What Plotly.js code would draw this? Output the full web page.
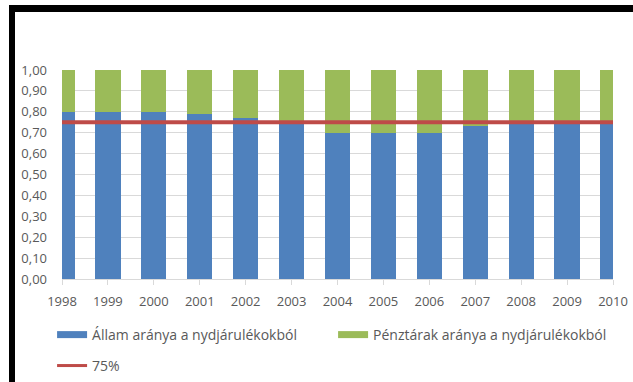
<!DOCTYPE html>
<html>
<head>
<meta charset="utf-8">
<script src="https://cdn.plot.ly/plotly-3.0.1.min.js"></script>
<style>
  html, body { margin: 0; padding: 0; background: #ffffff; }
  #chart { position: absolute; left: 0; top: 0; width: 633px; height: 382px; }
  .band { position: absolute; background: #000000; pointer-events: none; }
</style>
</head>
<body>
<div id="chart"></div>
<div class="band" style="left:9px; top:5px; width:624px; height:7px;"></div>
<div class="band" style="left:9px; top:5px; width:6px; height:377px;"></div>
<script>
// ---- data ----
const years = [1998, 1999, 2000, 2001, 2002, 2003, 2004, 2005, 2006, 2007, 2008, 2009, 2010];
const allamArany = [0.80, 0.80, 0.80, 0.79, 0.77, 0.74, 0.70, 0.70, 0.70, 0.73, 0.745, 0.745, 0.745];
const penztarArany = allamArany.map(v => +(1 - v).toFixed(3));
const threshold = [0.75, 0.75, 0.75, 0.75, 0.75, 0.75, 0.75, 0.75, 0.75, 0.75, 0.75, 0.75, 0.75];
const yTicks = [0, 0.1, 0.2, 0.3, 0.4, 0.5, 0.6, 0.7, 0.8, 0.9, 1.0];
const names = ['Állam aránya a nydjárulékokból', 'Pénztárak aránya a nydjárulékokból', '75%'];

const BLUE = '#4F81BD', GREEN = '#9BBB59', RED = '#BE4B48';
const TXT = '#595959';
const FONT = 'Open Sans, Liberation Sans, sans-serif';

const traces = [
  { type: 'bar', x: years, y: allamArany, marker: { color: BLUE }, width: 0.55, showlegend: false, hoverinfo: 'skip' },
  { type: 'bar', x: years, y: penztarArany, marker: { color: GREEN }, width: 0.55, showlegend: false, hoverinfo: 'skip' },
  { type: 'scatter', mode: 'lines', x: years, y: threshold, line: { color: RED, width: 4 }, showlegend: false, hoverinfo: 'skip' },
  // legend entries
  { type: 'scatter', mode: 'lines', x: [null], y: [null], name: names[0], line: { color: BLUE, width: 7 }, legend: 'legend' },
  { type: 'scatter', mode: 'lines', x: [null], y: [null], name: names[1], line: { color: GREEN, width: 7 }, legend: 'legend' },
  { type: 'scatter', mode: 'lines', x: [null], y: [null], name: names[2], line: { color: RED, width: 3 }, legend: 'legend2' }
];

const layout = {
  width: 633, height: 382,
  margin: { l: 62, r: 20, t: 70, b: 103, autoexpand: false },
  paper_bgcolor: '#ffffff', plot_bgcolor: '#ffffff',
  barmode: 'stack', separators: ', ',
  font: { family: FONT, size: 13, color: TXT },
  xaxis: {
    type: 'linear', range: [1998, 2010], tickvals: years, ticktext: years.map(String),
    showgrid: false, zeroline: false, showline: true, linecolor: '#D9D9D9', linewidth: 1,
    ticks: 'outside', ticklen: 5, tickcolor: '#D9D9D9', tickwidth: 1, ticklabelstandoff: 5,
    tickfont: { size: 13, color: TXT }, fixedrange: true
  },
  yaxis: {
    range: [0, 1], tickvals: yTicks, tickformat: '.2f',
    showgrid: true, gridcolor: '#D9D9D9', gridwidth: 1, zeroline: false, showline: false,
    ticks: '', ticklabelstandoff: 14, tickfont: { size: 13, color: TXT }, fixedrange: true
  },
  legend: {
    orientation: 'h', traceorder: 'normal', x: -0.018, xanchor: 'left', y: -0.268, yanchor: 'middle',
    entrywidth: 236, entrywidthmode: 'pixels',
    font: { size: 14, color: TXT }, bgcolor: 'rgba(0,0,0,0)'
  },
  legend2: {
    orientation: 'h', traceorder: 'normal', x: -0.018, xanchor: 'left', y: -0.416, yanchor: 'middle',
    font: { size: 14, color: TXT }, bgcolor: 'rgba(0,0,0,0)'
  }
};

Plotly.newPlot('chart', traces, layout, { displayModeBar: false, staticPlot: true });
</script>
</body>
</html>
